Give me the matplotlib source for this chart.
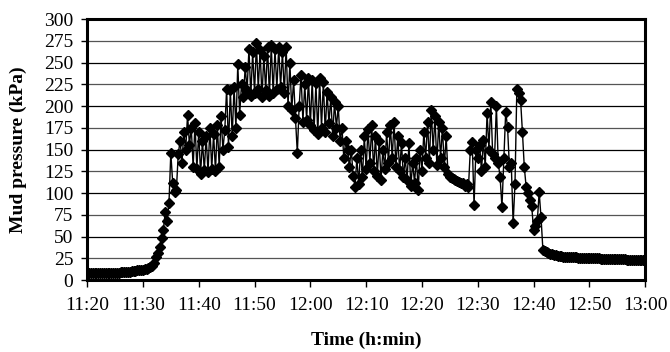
import matplotlib
matplotlib.use("Agg")
import matplotlib.pyplot as plt
import numpy as np

# time axis: minutes after 11:20, one reading every 20 s
start_minute = 11 * 60 + 20
sample_interval_min = 20 / 60

pressure_kpa = [
    8, 8, 8, 8, 8, 8, 8, 8, 8, 8, 8, 8, 8, 8, 8, 8, 8, 8,   # 11:20-11:26
    9, 9, 9, 9, 9, 9, 10, 10, 10, 11, 11, 12,              # 11:26-11:30
    12, 13, 13, 14, 15, 16, 20, 26, 31, 38, 48, 58,        # 11:30-11:34
    78, 68, 88, 146, 112, 101, 104, 145, 160, 135, 170, 150,
    190, 155, 175, 130, 180, 128, 170, 122, 160, 126, 165, 124,
    175, 128, 168, 125, 178, 130, 188, 150, 172, 220, 153, 218,
    165, 222, 175, 248, 190, 225, 210, 245, 218, 266, 212, 262,
    215, 272, 220, 264, 210, 258, 218, 268, 212, 270, 215, 265,
    220, 268, 222, 262, 215, 268, 200, 250, 195, 230, 186, 146,
    200, 236, 182, 225, 184, 232, 178, 230, 172, 226, 168, 232,
    175, 228, 170, 216, 180, 210, 165, 205, 175, 200, 160, 175,
    140, 160, 150, 130, 150, 120, 107, 140, 110, 150, 118, 165,
    128, 174, 135, 178, 125, 165, 120, 160, 115, 150, 128, 170,
    135, 178, 140, 182, 130, 165, 125, 158, 118, 140, 115, 157,
    108, 135, 112, 140, 103, 150, 125, 170, 140, 182, 135, 195,
    150, 188, 132, 182, 140, 175, 130, 165, 122, 118, 117, 116,
    115, 114, 113, 112, 111, 108, 110, 107, 150, 159, 86, 150,
    140, 155, 125, 161, 130, 192, 150, 205, 145, 140, 200, 135,
    118, 84, 140, 193, 176, 130, 134, 65, 110, 220, 215, 207,
    170, 130, 107, 100, 92, 85, 57, 62, 68, 101, 72, 35,
    33, 32, 31, 30, 30, 29, 29, 28, 28, 28, 27, 27,
    27, 27, 26, 26, 26, 26, 25, 25, 25, 25, 25, 25,
    25, 25, 25, 25, 25, 25, 24, 24, 24, 24, 24, 24,
    24, 24, 24, 24, 24, 24, 24, 24, 23, 23, 23, 23,
    23, 23, 23, 23, 23, 23, 23, 23, 23, 22, 22, 22,
    22,
]

x_tick_labels = ["11:20", "11:30", "11:40", "11:50", "12:00", "12:10",
                 "12:20", "12:30", "12:40", "12:50", "13:00"]
y_ticks = list(range(0, 301, 25))

t = start_minute + np.arange(len(pressure_kpa)) * sample_interval_min

plt.rcParams['font.family'] = ['Liberation Serif', 'DejaVu Serif']
fig = plt.figure(figsize=(6.7, 3.52), dpi=100)
ax = fig.add_axes([0.13, 0.2045, 0.833, 0.7415])

for i, y in enumerate(y_ticks[1:-1]):
    ax.axhline(y, color='black' if i % 2 else '#555555', lw=0.9, zorder=1)

ax.plot(t, pressure_kpa, color='black', lw=1.0, marker='D', markersize=5.5,
        markerfacecolor='black', markeredgecolor='black', zorder=3)

xt = start_minute + np.arange(len(x_tick_labels)) * 10
ax.set_xlim(xt[0], xt[-1])
ax.set_xticks(xt)
ax.set_xticklabels(x_tick_labels)
ax.set_ylim(0, 300)
ax.set_yticks(y_ticks)

for s in ax.spines.values():
    s.set_linewidth(2.2)
    s.set_color('black')

ax.tick_params(axis='x', direction='out', length=5, width=1, pad=7, labelsize=14)
ax.tick_params(axis='y', direction='out', length=4, width=1, pad=6, labelsize=14)

ax.set_xlabel("Time (h:min)", fontsize=14, fontweight='bold', labelpad=13)
ax.set_ylabel("Mud pressure (kPa)", fontsize=14, fontweight='bold', labelpad=12)

fig.savefig("out.png", dpi=100)
